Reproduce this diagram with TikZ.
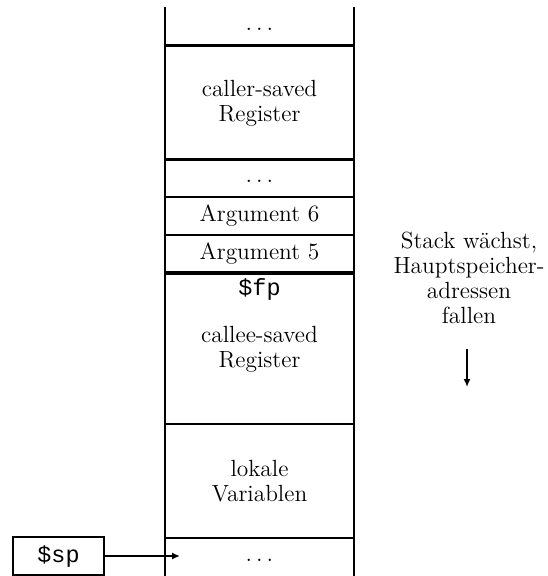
\documentclass[tikz,border=0pt]{standalone}
\usepackage{fontspec}
\setmonofont{Liberation Mono}
\usetikzlibrary{arrows.meta}
\begin{document}
\begin{tikzpicture}[x=0.5pt,y=-0.5pt,
    font=\fontsize{11.7}{12.4}\selectfont,
    cell/.style={minimum width=94.5pt,minimum height=#1,inner sep=0pt,align=center},
    box/.style={cell=#1,draw,line width=1pt},
    push/.style={line width=0.8pt,-{Latex[length=4pt,width=3.5pt]}}]
  \useasboundingbox (0,0) rectangle (547,576);
  % the stack, top to bottom
  \node[cell=19pt] (top) at (259.5,26) {\strut$\ldots$};
  \node[box=57pt] (caller) at (259.5,103) {caller-saved\\Register};
  \node[box=19pt] (gap) at (259.5,178) {\strut$\ldots$};
  \node[box=19pt] (arg6) at (259.5,216) {Argument 6};
  \node[box=18.5pt] (arg5) at (259.5,253.5) {Argument 5};
  \node[box=75pt] (callee) at (259.5,349) {callee-saved\\Register};
  \node[box=57pt] (local) at (259.5,481) {lokale\\Variablen};
  \node[cell=19pt] (bottom) at (259.5,557) {\strut$\ldots$};
  \draw[line width=1pt] (top.north west) -- (top.south west) -- (top.south east) -- (top.north east);
  \draw[line width=1pt] (bottom.south west) -- (bottom.north west) -- (bottom.north east) -- (bottom.south east);
  \node (fp) at ([yshift=-8pt]callee.north) {\ttfamily\$fp};
  % stack pointer
  \node[box=19pt,minimum width=45.5pt] (sp) at (58.5,556) {\ttfamily\$sp};
  \coordinate (sptip) at (180,556);
  \draw[push] (sp) -- (sptip);
  % growth direction
  \node[align=center] (grow) at (469,278) {Stack wächst,\\Hauptspeicher-\\adressen\\fallen};
  \coordinate (growtop) at (467,349);
  \coordinate (growend) at (467,387);
  \draw[push] (growtop) -- (growend);
\end{tikzpicture}
\end{document}
